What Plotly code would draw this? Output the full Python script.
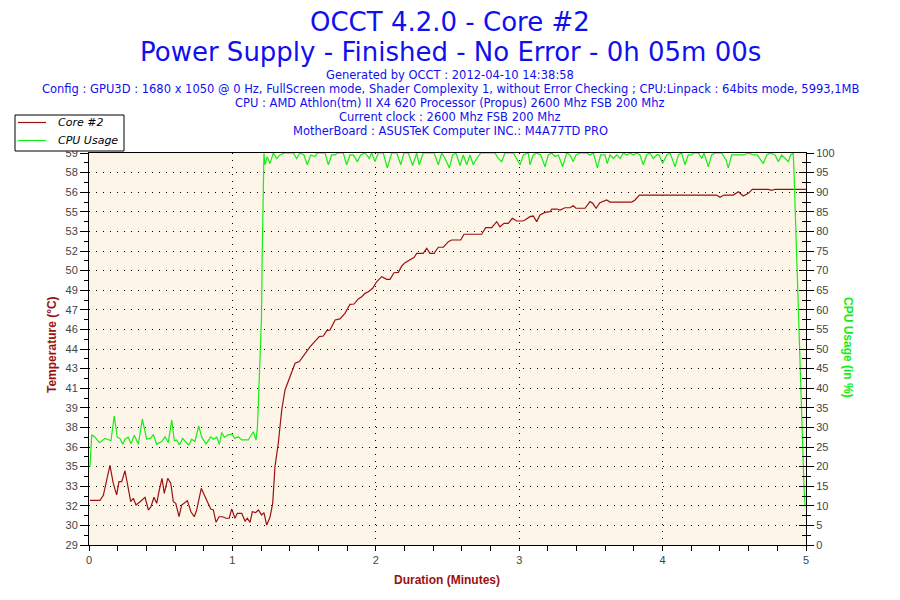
import plotly.graph_objects as go

# OCCT log: Core #2 temperature and CPU usage, time in minutes
temp_t = [0.007, 0.077, 0.100, 0.119, 0.146, 0.169, 0.193, 0.209, 0.228, 0.251,
          0.274, 0.291, 0.309, 0.328, 0.356, 0.391, 0.414, 0.432, 0.453, 0.472,
          0.490, 0.509, 0.525, 0.549, 0.570, 0.588, 0.605, 0.628, 0.646, 0.686,
          0.711, 0.734, 0.751, 0.783, 0.809, 0.832, 0.849, 0.867, 0.886, 0.907,
          0.932, 0.955, 0.978, 0.995, 1.018, 1.034, 1.065, 1.088, 1.104, 1.123,
          1.139, 1.162, 1.181, 1.204, 1.220, 1.239, 1.262, 1.281, 1.297, 1.320,
          1.344, 1.367, 1.402, 1.437, 1.467, 1.499, 1.541, 1.588, 1.606, 1.634,
          1.658, 1.681, 1.716, 1.750, 1.785, 1.820, 1.848, 1.878, 1.902, 1.925,
          1.948, 1.978, 2.006, 2.041, 2.076, 2.099, 2.127, 2.157, 2.181, 2.204,
          2.238, 2.268, 2.285, 2.331, 2.355, 2.378, 2.406, 2.436, 2.471, 2.506,
          2.529, 2.592, 2.615, 2.738, 2.766, 2.808, 2.843, 2.866, 2.894, 2.924,
          2.952, 2.983, 3.024, 3.040, 3.075, 3.098, 3.122, 3.145, 3.180, 3.215,
          3.227, 3.262, 3.285, 3.319, 3.354, 3.377, 3.396, 3.459, 3.494, 3.513,
          3.536, 3.563, 3.610, 3.633, 3.785, 3.808, 3.838, 4.377, 4.400, 4.428,
          4.493, 4.528, 4.563, 4.598, 4.626, 4.737, 4.761, 4.784, 5.000]
temp_c = [32.71, 32.71, 33.10, 34.17, 35.46, 34.05, 33.13, 34.17, 34.17, 35.03,
          33.78, 32.60, 32.87, 32.34, 32.60, 32.95, 31.95, 32.20, 32.95, 32.47,
          33.50, 34.44, 33.26, 34.44, 34.05, 32.60, 32.47, 31.42, 32.34, 32.68,
          31.81, 31.42, 31.95, 33.65, 33.00, 32.47, 32.03, 31.95, 30.98, 31.42,
          31.42, 31.30, 31.30, 32.03, 31.30, 31.69, 31.69, 31.08, 31.30, 30.98,
          31.81, 31.74, 31.95, 31.56, 31.74, 30.77, 31.37, 32.47, 35.35, 37.19,
          39.80, 41.37, 42.42, 43.47, 43.60, 44.12, 44.75, 45.35, 45.56, 45.61,
          46.03, 46.08, 46.87, 46.95, 47.39, 48.10, 48.12, 48.52, 48.70, 48.96,
          49.09, 49.36, 49.87, 50.27, 50.06, 50.06, 50.58, 50.61, 51.11, 51.37,
          51.58, 51.79, 52.10, 52.10, 52.50, 52.10, 52.10, 52.58, 52.58, 53.02,
          53.15, 53.15, 53.60, 53.60, 54.12, 54.12, 54.59, 54.19, 54.46, 54.46,
          54.85, 54.64, 54.64, 54.72, 54.98, 55.03, 54.59, 55.11, 55.32, 55.37,
          55.58, 55.58, 55.50, 55.68, 55.68, 55.84, 55.64, 55.64, 56.16, 56.03,
          55.64, 56.08, 56.29, 56.13, 56.13, 56.29, 56.68, 56.68, 56.50, 56.68,
          56.68, 56.94, 56.60, 56.81, 57.13, 57.13, 57.05, 57.13, 57.13]

cpu_t = [0.007, 0.012, 0.019, 0.042, 0.072, 0.112, 0.153, 0.176, 0.197, 0.216,
         0.235, 0.251, 0.274, 0.293, 0.316, 0.344, 0.372, 0.402, 0.430, 0.448,
         0.472, 0.507, 0.530, 0.553, 0.577, 0.595, 0.612, 0.630, 0.653, 0.676,
         0.697, 0.716, 0.739, 0.765, 0.786, 0.816, 0.849, 0.867, 0.891, 0.909,
         0.925, 0.944, 0.971, 0.995, 1.018, 1.041, 1.065, 1.111, 1.146, 1.165,
         1.174, 1.181, 1.192, 1.197, 1.203, 1.208, 1.215, 1.220, 1.227, 1.243,
         1.262, 1.285, 1.309, 1.332, 1.362, 1.425, 1.448, 1.471, 1.499, 1.522,
         1.546, 1.576, 1.592, 1.646, 1.669, 1.692, 1.716, 1.732, 1.773, 1.797,
         1.820, 1.843, 1.871, 1.895, 1.925, 1.955, 1.971, 1.994, 2.017, 2.052,
         2.080, 2.111, 2.146, 2.174, 2.197, 2.227, 2.257, 2.285, 2.303, 2.331,
         2.406, 2.436, 2.460, 2.483, 2.513, 2.536, 2.559, 2.587, 2.610, 2.634,
         2.657, 2.680, 2.704, 2.732, 2.831, 2.854, 2.878, 2.901, 2.959, 2.983,
         3.006, 3.029, 3.063, 3.075, 3.098, 3.122, 3.150, 3.180, 3.203, 3.227,
         3.250, 3.273, 3.303, 3.331, 3.354, 3.377, 3.396, 3.424, 3.471, 3.494,
         3.517, 3.545, 3.568, 3.598, 3.614, 3.633, 3.656, 3.680, 3.703, 3.726,
         3.750, 3.773, 3.796, 3.819, 3.842, 3.865, 3.889, 3.912, 3.935, 3.959,
         3.977, 4.000, 4.029, 4.052, 4.087, 4.110, 4.133, 4.156, 4.179, 4.203,
         4.214, 4.249, 4.273, 4.289, 4.319, 4.342, 4.365, 4.412, 4.442, 4.458,
         4.482, 4.512, 4.540, 4.568, 4.598, 4.633, 4.660, 4.679, 4.702, 4.726,
         4.749, 4.784, 4.807, 4.831, 4.854, 4.877, 4.893, 4.907, 4.911, 4.916,
         4.923, 4.930, 4.935, 4.942, 4.951, 4.958, 4.963, 4.970, 4.977, 4.986,
         4.993]
cpu_pct = [20.0, 25.5, 28.1, 27.5, 26.1, 27.2, 26.6, 32.9, 27.5, 27.2,
           25.7, 27.0, 27.5, 25.8, 28.0, 25.7, 32.1, 27.0, 27.2, 28.2,
           25.7, 26.4, 27.6, 26.1, 31.9, 26.6, 26.8, 25.5, 27.2, 26.2,
           25.5, 27.0, 26.4, 30.4, 27.5, 25.8, 27.6, 27.0, 27.5, 25.7,
           28.7, 27.5, 28.1, 28.3, 27.2, 27.6, 26.8, 26.8, 28.9, 26.8,
           29.8, 36.1, 47.2, 54.8, 58.2, 74.8, 91.8, 99.9, 97.0, 99.0,
           97.3, 100, 98.6, 99.5, 100, 100, 98.6, 100, 99.5, 97.0,
           99.5, 99.1, 100, 100, 97.0, 99.5, 99.5, 100, 100, 97.0,
           99.5, 99.5, 97.8, 99.5, 100, 98.6, 100, 97.8, 100, 100,
           96.2, 100, 100, 97.0, 100, 100, 96.8, 100, 97.0, 100,
           100, 97.0, 100, 98.6, 96.2, 99.5, 100, 96.8, 99.5, 97.0,
           99.5, 97.0, 98.6, 100, 100, 98.6, 97.8, 100, 100, 98.3,
           97.0, 99.5, 100, 97.0, 99.5, 100, 99.5, 96.5, 99.5, 100,
           99.1, 99.5, 96.5, 100, 99.5, 97.8, 99.5, 100, 100, 99.5,
           100, 96.2, 99.5, 99.5, 97.3, 99.5, 98.6, 99.5, 98.6, 100,
           99.5, 100, 99.5, 100, 99.5, 97.0, 99.5, 100, 98.6, 99.5,
           99.5, 97.3, 99.5, 100, 96.5, 99.5, 100, 97.0, 99.5, 99.5,
           100, 100, 98.6, 100, 96.5, 99.5, 100, 100, 98.3, 96.2,
           99.5, 99.5, 99.5, 99.5, 100, 99.5, 99.5, 98.6, 97.3, 99.5,
           100, 99.5, 97.8, 99.5, 98.6, 97.8, 99.5, 100, 100, 95.7,
           87.6, 79.5, 71.4, 62.9, 54.8, 46.8, 38.3, 30.2, 22.1, 14.9,
           9.9]

# left axis: 21 evenly spaced ticks, OCCT prints them truncated
temp_lo, temp_hi = 29.2, 59.98
temp_labels = ["29", "30", "32", "33", "35", "36", "38", "39", "41", "43", "44",
               "46", "47", "49", "50", "52", "53", "55", "56", "58", "59"]
series_names = ["Core #2", "CPU Usage"]
info_lines = [
    "Generated by OCCT : 2012-04-10 14:38:58",
    "Config : GPU3D : 1680 x 1050 @ 0 Hz, FullScreen mode, Shader Complexity 1, without Error Checking ; CPU:Linpack : 64bits mode, 5993,1MB",
    "CPU : AMD Athlon(tm) II X4 620 Processor (Propus) 2600 Mhz FSB 200 Mhz",
    "Current clock : 2600 Mhz FSB 200 Mhz",
    "MotherBoard : ASUSTeK Computer INC.: M4A77TD PRO",
]

step = (temp_hi - temp_lo) / (len(temp_labels) - 1)
temp_ticks = [temp_lo + i * step for i in range(len(temp_labels))]
temp_minor = [temp_lo + (i + 0.5) * step for i in range(len(temp_labels) - 1)]

RED = "#9B1111"
GREEN = "#14EE14"
BLUE = "#1010EE"
tickfont = dict(family="Liberation Sans, Arial", size=11, color="#444444")

fig = go.Figure()
fig.add_trace(go.Scatter(x=temp_t, y=temp_c, name=series_names[0], mode="lines",
                         line=dict(color=RED, width=1.2), showlegend=False))
fig.add_trace(go.Scatter(x=cpu_t, y=cpu_pct, name=series_names[1], mode="lines",
                         line=dict(color=GREEN, width=1.2), yaxis="y2", showlegend=False))
# empty trace so the overlay axis (inner half of the crossing ticks) gets drawn
fig.add_trace(go.Scatter(x=[None], y=[None], yaxis="y3", showlegend=False, hoverinfo="skip"))

# page is drawn 8px in from the window corner; plot area wanted at x 89..806, y 153..545
OFF = 8
PW, PH = 717.0, 392.0
def px(x):
    return (x - 89) / PW
def py(y):
    return (545 - y) / PH

ann = [
    dict(text="OCCT 4.2.0 - Core #2", x=px(450), y=py(22),
         font=dict(size=26, color=BLUE, family="DejaVu Sans")),
    dict(text="Power Supply - Finished - No Error - 0h 05m 00s", x=px(450), y=py(52),
         font=dict(size=26, color=BLUE, family="DejaVu Sans")),
]
for i, line in enumerate(info_lines):
    ann.append(dict(text=line, x=px(450), y=py(75 + i * 14.1),
                    font=dict(size=11.5, color=BLUE, family="DejaVu Sans")))
ann.append(dict(text="<b>Temperature (°C)</b>", x=px(52), y=py(345), textangle=-90,
                font=dict(size=12, color=RED, family="Liberation Sans, Arial")))
ann.append(dict(text="<b>CPU Usage (in %)</b>", x=px(848), y=py(347), textangle=90,
                font=dict(size=12, color=GREEN, family="Liberation Sans, Arial")))
ann.append(dict(text="<b>Duration (Minutes)</b>", x=px(447), y=py(580),
                font=dict(size=12, color=RED, family="Liberation Sans, Arial")))
for a in ann:
    a.update(xanchor="center")

# hand-drawn legend box in the top-left corner
shapes = [dict(type="rect", x0=px(15), x1=px(124), y0=py(151), y1=py(115),
               fillcolor="white", line=dict(color="black", width=1), layer="above")]
for name, color, yy in zip(series_names, [RED, GREEN], [122.5, 140.5]):
    shapes.append(dict(type="line", x0=px(18), x1=px(46), y0=py(yy), y1=py(yy),
                       line=dict(color=color, width=1.2), layer="above"))
    ann.append(dict(text=name, x=px(56), y=py(yy), xanchor="left",
                    font=dict(size=11, color="black", family="DejaVu Sans", style="italic")))
for a in ann:
    a.update(xref="paper", yref="paper", yanchor="middle", showarrow=False)
for s in shapes:
    s.update(xref="paper", yref="paper")

fig.update_layout(
    width=900, height=600,
    margin=dict(l=89 - OFF, r=900 - 806 + OFF, t=153 - OFF, b=600 - 545 + OFF),
    paper_bgcolor="white", plot_bgcolor="#FDF6E8",
    annotations=ann, shapes=shapes,
    showlegend=False,
    xaxis=dict(range=[0, 5], tickmode="linear", tick0=0, dtick=1,
               ticks="outside", ticklen=5, tickcolor="black",
               minor=dict(dtick=0.2, ticks="outside", ticklen=5, tickcolor="black"),
               showline=True, linecolor="black", mirror=True,
               showgrid=True, gridcolor="black", griddash="1px,6px", gridwidth=1,
               zeroline=False, tickfont=tickfont),
    yaxis=dict(range=[temp_lo, temp_hi], tickmode="array", tickvals=temp_ticks, ticktext=temp_labels,
               ticks="outside", ticklen=8, tickcolor="black",
               minor=dict(tickmode="array", tickvals=temp_minor, ticks="outside", ticklen=4, tickcolor="black"),
               showline=True, linecolor="black",
               showgrid=True, gridcolor="black", griddash="1px,6px", gridwidth=1,
               zeroline=False, tickfont=tickfont),
    yaxis2=dict(range=[0, 100], overlaying="y", side="right", tickmode="linear", tick0=0, dtick=5,
                ticks="outside", ticklen=7, tickcolor="black",
                minor=dict(dtick=2.5, ticks="outside", ticklen=4, tickcolor="black"),
                showline=True, linecolor="black", showgrid=False, zeroline=False, tickfont=tickfont),
    yaxis3=dict(range=[0, 100], overlaying="y", side="right", tickmode="linear", tick0=0, dtick=5,
                ticks="inside", ticklen=7, tickcolor="black",
                minor=dict(dtick=2.5, ticks="inside", ticklen=4, tickcolor="black"),
                showticklabels=False, showline=False, showgrid=False, zeroline=False),
)

fig.write_html("out.html")
